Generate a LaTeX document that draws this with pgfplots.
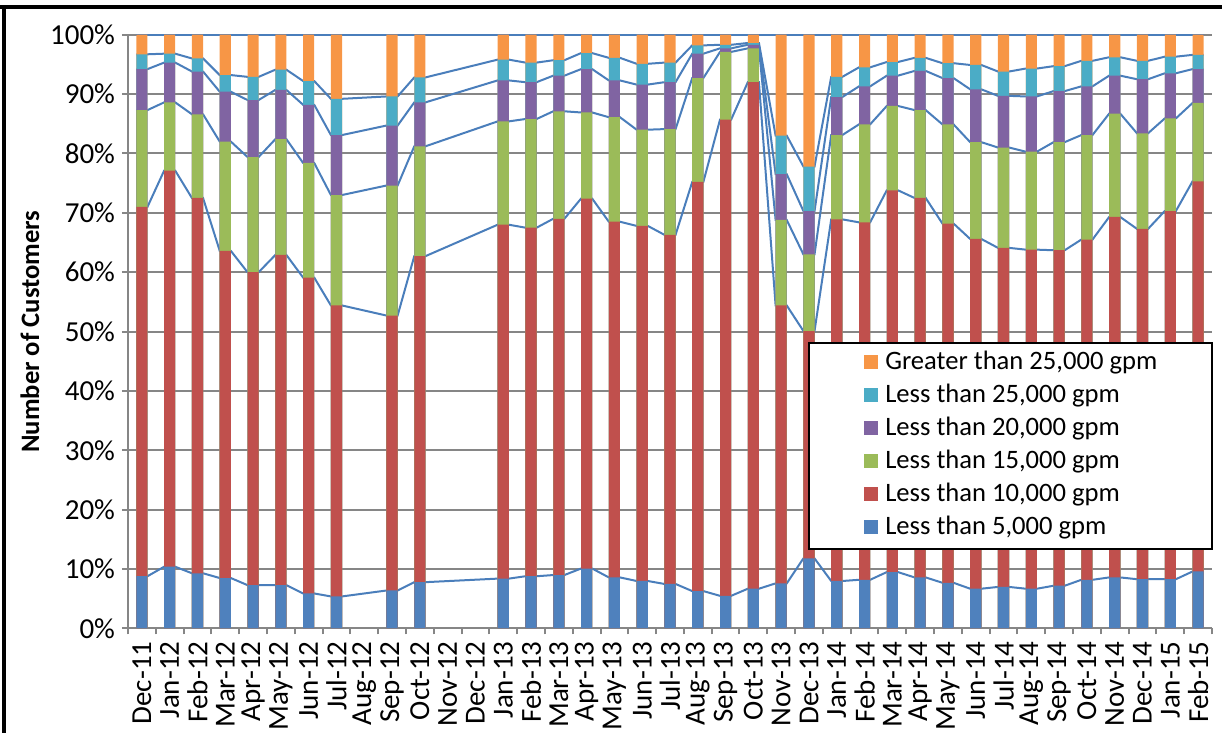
\documentclass[border=0pt]{standalone}
\usepackage{pgfplots}
\pgfplotsset{compat=1.18}
\usepackage{pgfplotstable}
\usepackage{fontspec}
\setmainfont{Carlito}

\definecolor{cBlue}{HTML}{4F81BD}
\definecolor{cRed}{HTML}{C0504D}
\definecolor{cGreen}{HTML}{9BBB59}
\definecolor{cPurple}{HTML}{8064A2}
\definecolor{cAqua}{HTML}{4BACC6}
\definecolor{cOrange}{HTML}{F79646}
\definecolor{seriesline}{HTML}{4A7EBB}
\definecolor{gridgray}{HTML}{868686}

\newcommand\fs{\fontsize{14.5}{17}\selectfont}
\newcommand\fl{\fontsize{13.3}{16}\selectfont}

% Cumulative share of customers (top of each band, %), one row per bar edge:
% s=-1 is the left edge, s=1 the right edge of the bar at category i.
\pgfplotstableread{
i  s   b     r     g     p     c     t
0  -1  8.8   71.0  87.3  94.2  96.7  100
0   1  8.8   71.0  87.3  94.2  96.7  100
1  -1  10.4  77.1  88.6  95.3  96.8  100
1   1  10.4  77.1  88.6  95.3  96.8  100
2  -1  9.3   72.5  86.6  93.8  96.0  100
2   1  9.3   72.5  86.6  93.8  96.0  100
3  -1  8.5   63.6  82.0  90.4  93.2  100
3   1  8.5   63.6  82.0  90.4  93.2  100
4  -1  7.3   60.0  79.4  89.0  92.9  100
4   1  7.3   60.0  79.4  89.0  92.9  100
5  -1  7.3   62.9  82.4  90.7  94.1  100
5   1  7.3   62.9  82.4  90.7  94.1  100
6  -1  5.9   59.1  78.4  88.2  92.2  100
6   1  5.9   59.1  78.4  88.2  92.2  100
7  -1  5.4   54.4  73.0  83.1  89.2  100
7   1  5.4   54.4  73.0  83.1  89.2  100
9  -1  6.4   52.7  74.6  84.7  89.6  100
9   1  6.4   52.7  74.6  84.7  89.6  100
10 -1  7.8   62.7  81.2  88.6  92.8  100
10  1  7.8   62.7  81.2  88.6  92.8  100
13 -1  8.4   68.0  85.4  92.3  95.8  100
13  1  8.4   68.0  85.4  92.3  95.8  100
14 -1  8.8   67.5  85.8  92.0  95.3  100
14  1  8.8   67.5  85.8  92.0  95.3  100
15 -1  9.0   69.0  87.1  93.1  95.7  100
15  1  9.0   69.0  87.1  93.1  95.7  100
16 -1  10.1  72.4  86.9  94.2  96.9  100
16  1  10.1  72.4  86.9  94.2  96.9  100
17 -1  8.6   68.5  86.1  92.3  96.1  100
17  1  8.6   68.5  86.1  92.3  96.1  100
18 -1  8.0   67.8  84.0  91.6  95.1  100
18  1  8.0   67.8  84.0  91.6  95.1  100
19 -1  7.5   66.3  84.1  92.0  95.3  100
19  1  7.5   66.3  84.1  92.0  95.3  100
20 -1  6.3   75.2  92.7  96.8  98.2  100
20  1  6.3   75.2  92.7  96.8  98.2  100
21 -1  5.5   85.7  97.1  97.7  98.3  100
21  1  5.5   85.7  97.1  97.7  98.3  100
22 -1  6.7   92.0  97.7  98.3  98.6  100
22  1  6.7   92.0  97.7  98.3  98.6  100
23 -1  7.6   54.4  68.8  76.5  83.0  100
23  1  7.6   54.4  68.8  76.5  83.0  100
24 -1  11.8  50.1  63.0  70.3  77.8  100
24  1  11.8  50.1  63.0  70.3  77.8  100
25 -1  8.0   68.9  83.1  89.5  92.9  100
25  1  8.0   68.9  83.1  89.5  92.9  100
26 -1  8.2   68.4  84.9  91.3  94.5  100
26  1  8.2   68.4  84.9  91.3  94.5  100
27 -1  9.5   73.8  88.0  93.1  95.4  100
27  1  9.5   73.8  88.0  93.1  95.4  100
28 -1  8.6   72.5  87.3  93.9  96.1  100
28  1  8.6   72.5  87.3  93.9  96.1  100
29 -1  7.7   68.2  84.9  92.7  95.2  100
29  1  7.7   68.2  84.9  92.7  95.2  100
30 -1  6.7   65.6  81.9  90.8  94.9  100
30  1  6.7   65.6  81.9  90.8  94.9  100
31 -1  7.0   64.1  81.0  89.7  93.8  100
31  1  7.0   64.1  81.0  89.7  93.8  100
32 -1  6.7   63.8  80.3  89.6  94.3  100
32  1  6.7   63.8  80.3  89.6  94.3  100
33 -1  7.2   63.7  81.9  90.5  94.7  100
33  1  7.2   63.7  81.9  90.5  94.7  100
34 -1  8.2   65.5  83.1  91.3  95.6  100
34  1  8.2   65.5  83.1  91.3  95.6  100
35 -1  8.6   69.3  86.7  93.1  96.2  100
35  1  8.6   69.3  86.7  93.1  96.2  100
36 -1  8.3   67.3  83.4  92.5  95.6  100
36  1  8.3   67.3  83.4  92.5  95.6  100
37 -1  8.3   70.3  85.9  93.5  96.3  100
37  1  8.3   70.3  85.9  93.5  96.3  100
38 -1  9.6   75.3  88.5  94.2  96.6  100
38  1  9.6   75.3  88.5  94.2  96.6  100
}\gpmdata

\begin{document}
\begin{tikzpicture}
\begin{axis}[
  at={(0pt,0pt)}, anchor=south west,
  scale only axis, width=542pt, height=296.9pt,
  xmin=-0.5, xmax=38.5, ymin=0, ymax=100,
  axis x line*=bottom, axis y line*=left,
  axis line style={draw=gridgray, line width=1pt, -},
  ymajorgrids, grid style={draw=gridgray, line width=1pt},
  ytick={0,10,...,100},
  yticklabels={0\%,10\%,20\%,30\%,40\%,50\%,60\%,70\%,80\%,90\%,100\%},
  xtick={0,...,38},
  xticklabels={Dec-11,Jan-12,Feb-12,Mar-12,Apr-12,May-12,Jun-12,Jul-12,Aug-12,Sep-12,Oct-12,Nov-12,Dec-12,Jan-13,Feb-13,Mar-13,Apr-13,May-13,Jun-13,Jul-13,Aug-13,Sep-13,Oct-13,Nov-13,Dec-13,Jan-14,Feb-14,Mar-14,Apr-14,May-14,Jun-14,Jul-14,Aug-14,Sep-14,Oct-14,Nov-14,Dec-14,Jan-15,Feb-15},
  minor xtick={-0.5,0.5,...,38.5},
  tick align=outside,
  major tick length=3pt, minor tick length=3pt,
  major x tick style={draw=none},
  tick style={draw=gridgray, line width=1pt},
  xticklabel style={rotate=90, anchor=east, font=\fs},
  yticklabel style={font=\fs},
  ylabel={\bfseries Number of Customers},
  ylabel style={font=\fl, at={(axis description cs:-0.0904,0.5)}, anchor=center},
  legend cell align=left,
  legend image code/.code={\fill[#1] (0pt,-2.9pt) rectangle (7.2pt,4.3pt);},
  legend style={at={(axis description cs:0.627,0.4825)}, anchor=north west,
    draw=black, line width=1pt, font=\fl, fill=white,
    inner xsep=27.5pt, inner ysep=4pt, row sep=4pt,
    nodes={inner sep=0pt, text height=9.5pt, text depth=3pt},
    /tikz/every odd column/.style={column sep=3.6pt}},
]
% series lines joining the band tops of neighbouring bars
\foreach \col in {b,r,g,p,c,t}{
  \addplot[forget plot, draw=seriesline, line width=1pt, mark=none]
    table[x expr={\thisrow{i}+0.2*\thisrow{s}}, y=\col] {\gpmdata};
}
% bands, drawn from the top band down so each covers the one above it
\addplot[ybar, bar width=0.4, bar shift=0pt, fill=cOrange, draw=none, each nth point=2]
  table[x=i, y=t] {\gpmdata};
\addlegendentry{Greater than 25,000 gpm}
\addplot[ybar, bar width=0.4, bar shift=0pt, fill=cAqua, draw=none, each nth point=2]
  table[x=i, y=c] {\gpmdata};
\addlegendentry{Less than 25,000 gpm}
\addplot[ybar, bar width=0.4, bar shift=0pt, fill=cPurple, draw=none, each nth point=2]
  table[x=i, y=p] {\gpmdata};
\addlegendentry{Less than 20,000 gpm}
\addplot[ybar, bar width=0.4, bar shift=0pt, fill=cGreen, draw=none, each nth point=2]
  table[x=i, y=g] {\gpmdata};
\addlegendentry{Less than 15,000 gpm}
\addplot[ybar, bar width=0.4, bar shift=0pt, fill=cRed, draw=none, each nth point=2]
  table[x=i, y=r] {\gpmdata};
\addlegendentry{Less than 10,000 gpm}
\addplot[ybar, bar width=0.4, bar shift=0pt, fill=cBlue, draw=none, each nth point=2]
  table[x=i, y=b] {\gpmdata};
\addlegendentry{Less than 5,000 gpm}
\end{axis}
% chart frame
\draw[black, line width=2pt] (-64pt,310.75pt) -- (547pt,310.75pt);
\draw[black, line width=2pt] (-62pt,-52.25pt) -- (-62pt,311.75pt);
\pgfresetboundingbox
\useasboundingbox (-64pt,-52.25pt) rectangle (547pt,314.25pt);
\end{tikzpicture}
\end{document}
